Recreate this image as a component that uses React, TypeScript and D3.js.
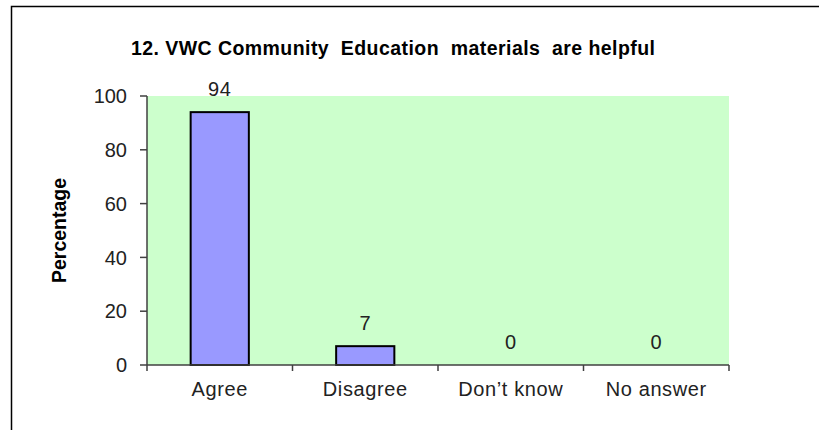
import React from "react";
import * as d3 from "d3";

const categories = ["Agree", "Disagree", "Don\u2019t know", "No answer"];
const values = [94, 7, 0, 0];
const yTicks = [0, 20, 40, 60, 80, 100];

const W = 819;
const H = 430;
const margin = { top: 96, right: 90, bottom: 65, left: 147 };

export default function App() {
  const x = d3.scaleBand<string>()
    .domain(categories)
    .range([margin.left, W - margin.right])
    .paddingInner(0)
    .paddingOuter(0);

  const y = d3.scaleLinear().domain([0, 100]).range([H - margin.bottom, margin.top]);

  const barW = x.bandwidth() * 0.4;
  const font = "Liberation Sans, Arial, sans-serif";
  const axisColor = "#404040";
  const y0 = y(0);
  const labelStyle = { letterSpacing: "0.6px" };

  return (
    <svg width={W} height={H} style={{ position: "absolute", left: 0, top: 0, fontFamily: font }}>
      <rect x={0} y={0} width={W} height={H} fill="#fff" />
      {/* outer frame, runs off the right and bottom edges */}
      <rect x={11.5} y={6.5} width={W + 10} height={H + 10} fill="none" stroke="#000" strokeWidth={1.5} />

      <text x={131} y={55} textLength={524} lengthAdjust="spacing" fontSize={19.5} fontWeight="bold" style={{ whiteSpace: "pre" }}>
        12. VWC Community  Education  materials  are helpful
      </text>

      {/* plot area */}
      <rect x={margin.left} y={y(100)} width={W - margin.right - margin.left} height={y0 - y(100)} fill="#CCFFCC" />

      {categories.map((c, i) => {
        const cx = (x(c) ?? 0) + x.bandwidth() / 2;
        const v = values[i];
        return (
          <g key={c}>
            {v > 0 && (
              <rect x={cx - barW / 2} y={y(v)} width={barW} height={y0 - y(v)} fill="#9999FF" stroke="#000" strokeWidth={2} />
            )}
            <text x={cx} y={y(v) - 16} textAnchor="middle" fontSize={20} fill="#222" style={labelStyle}>{v}</text>
            <text x={cx} y={y0 + 31} textAnchor="middle" fontSize={20} fill="#222" style={labelStyle}>{c}</text>
          </g>
        );
      })}

      {/* y axis */}
      <line x1={margin.left} x2={margin.left} y1={y(100)} y2={y0} stroke={axisColor} strokeWidth={1.5} />
      {yTicks.map(t => (
        <g key={t}>
          <line x1={margin.left - 7} x2={margin.left} y1={y(t)} y2={y(t)} stroke={axisColor} strokeWidth={1.5} />
          <text x={margin.left - 20} y={y(t)} dy="0.36em" textAnchor="end" fontSize={20} fill="#222">{t}</text>
        </g>
      ))}

      {/* x axis */}
      <line x1={margin.left} x2={W - margin.right} y1={y0} y2={y0} stroke={axisColor} strokeWidth={1.5} />
      {[...categories.map(c => x(c) ?? 0), W - margin.right].map((tx, i) => (
        <line key={i} x1={tx} x2={tx} y1={y0} y2={y0 + 6} stroke={axisColor} strokeWidth={1.5} />
      ))}

      <text transform={`translate(66,${(y(100) + y0) / 2}) rotate(-90)`} textAnchor="middle" fontSize={19.5} fontWeight="bold">
        Percentage
      </text>
    </svg>
  );
}
